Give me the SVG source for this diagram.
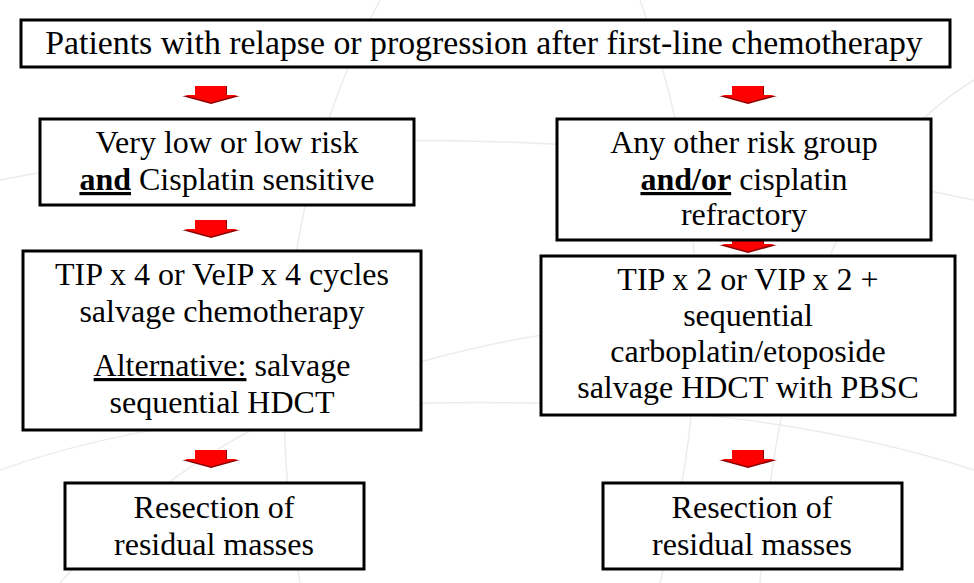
<svg xmlns="http://www.w3.org/2000/svg" width="974" height="583" viewBox="0 0 974 583">
<defs>
<style>
.box{fill:#fff;stroke:#000;stroke-width:3}
.t{font-family:"Liberation Serif","Times New Roman",serif;font-size:32px;fill:#000;text-anchor:middle}
.top{font-size:33.8px}
.b{font-weight:bold;text-decoration:underline}
.u{text-decoration:underline}
.bg{fill:none;stroke:#ececec;stroke-width:1.5}
</style>
<g id="arrowShape">
<polygon points="-16,0 16,0 16,10 29,10 0,18 -29,10 -16,10" fill="#8b0000"/>
<polygon points="-16,0 15,0 15,9 27,9 0,16.5 -27,9 -16,9" fill="#ff0000"/>
</g>
</defs>
<rect width="974" height="583" fill="#fff"/>
<g id="background">
<path class="bg" d="M380,0 C300,150 260,350 300,583"/>
<path class="bg" d="M640,0 C700,160 720,360 660,583"/>
<path class="bg" d="M0,470 C250,380 700,380 974,470"/>
<path class="bg" d="M0,180 C300,120 650,130 974,200"/>
<path class="bg" d="M60,583 C200,420 420,330 700,320"/>
<path class="bg" d="M974,80 C860,150 780,300 760,583"/>
</g>
<g id="connectors">
<use href="#arrowShape" x="211" y="86"/>
<use href="#arrowShape" x="748" y="86"/>
<use href="#arrowShape" x="211" y="220"/>
<use href="#arrowShape" x="748" y="235"/>
<use href="#arrowShape" x="211" y="450"/>
<use href="#arrowShape" x="748" y="450"/>
</g>
<g id="n1">
<rect class="box" x="21" y="20" width="929" height="47"/>
<text class="t top" x="484" y="54">Patients with relapse or progression after first-line chemotherapy</text>
</g>
<g id="n2">
<rect class="box" x="40" y="119" width="374" height="86"/>
<text class="t" x="227" y="153">Very low or low risk</text>
<text class="t" x="227" y="190"><tspan class="b">and</tspan> Cisplatin sensitive</text>
</g>
<g id="n3">
<rect class="box" x="557" y="119" width="374" height="121"/>
<text class="t" x="744" y="153">Any other risk group</text>
<text class="t" x="744" y="190"><tspan class="b">and/or</tspan> cisplatin</text>
<text class="t" x="744" y="225">refractory</text>
</g>
<g id="n4">
<rect class="box" x="23" y="251" width="398" height="179"/>
<text class="t" x="222" y="285">TIP x 4 or VeIP x 4 cycles</text>
<text class="t" x="222" y="322">salvage chemotherapy</text>
<text class="t" x="222" y="376"><tspan class="u">Alternative:</tspan> salvage</text>
<text class="t" x="222" y="413">sequential HDCT</text>
</g>
<g id="n5">
<rect class="box" x="541" y="256" width="414" height="159"/>
<text class="t" x="748" y="290">TIP x 2 or VIP x 2 +</text>
<text class="t" x="748" y="326">sequential</text>
<text class="t" x="748" y="362">carboplatin/etoposide</text>
<text class="t" x="748" y="398">salvage HDCT with PBSC</text>
</g>
<g id="n6">
<rect class="box" x="65" y="483" width="299" height="86"/>
<text class="t" x="214" y="518">Resection of</text>
<text class="t" x="214" y="555">residual masses</text>
</g>
<g id="n7">
<rect class="box" x="603" y="483" width="299" height="86"/>
<text class="t" x="752" y="518">Resection of</text>
<text class="t" x="752" y="555">residual masses</text>
</g>
</svg>
